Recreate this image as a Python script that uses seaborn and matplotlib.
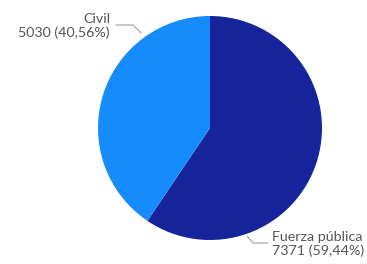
import matplotlib
matplotlib.use("Agg")
import matplotlib.pyplot as plt
import seaborn as sns

categories = ["Fuerza pública", "Civil"]
values = [7371, 5030]
percent_labels = ["59,44%", "40,56%"]
colors = ["#16239b", "#168cfc"]

sns.set_theme(style="white")
plt.rcParams['font.family'] = ['Lato', 'DejaVu Sans']

W, H = 367, 264
fig = plt.figure(figsize=(W / 100, H / 100), dpi=100)
ax = fig.add_axes([0, 0, 1, 1])

cx, cy, R = 210, 128, 112
def px(x, y):
    return ((x - cx) / R, (cy - y) / R)

ax.pie(values, colors=colors, startangle=90, counterclock=False, radius=1.0,
       wedgeprops=dict(linewidth=0))
ax.set_xlim(-cx / R, (W - cx) / R)
ax.set_ylim(-(H - cy) / R, cy / R)
ax.set_aspect('auto')
ax.axis('off')

txt_color = "#555555"
line_color = "#aaaaaa"

# Civil label
p = [px(116, 25), px(133, 25), px(141, 33)]
ax.plot([q[0] for q in p], [q[1] for q in p], color=line_color, lw=0.9, clip_on=False)
x0, y0 = px(110, 26)
ax.text(x0, y0, f"{categories[1]}\n{values[1]} ({percent_labels[1]})", ha="right", va="center",
        fontsize=10.3, color=txt_color, linespacing=1.15)

# Fuerza pública label
p = [px(247, 236), px(253, 243), px(268, 243)]
ax.plot([q[0] for q in p], [q[1] for q in p], color=line_color, lw=0.9, clip_on=False)
x0, y0 = px(272, 244)
ax.text(x0, y0, f"{categories[0]}\n{values[0]} ({percent_labels[0]})", ha="left", va="center",
        fontsize=10.3, color=txt_color, linespacing=1.15)

fig.savefig("out.png", dpi=100, facecolor="white")
